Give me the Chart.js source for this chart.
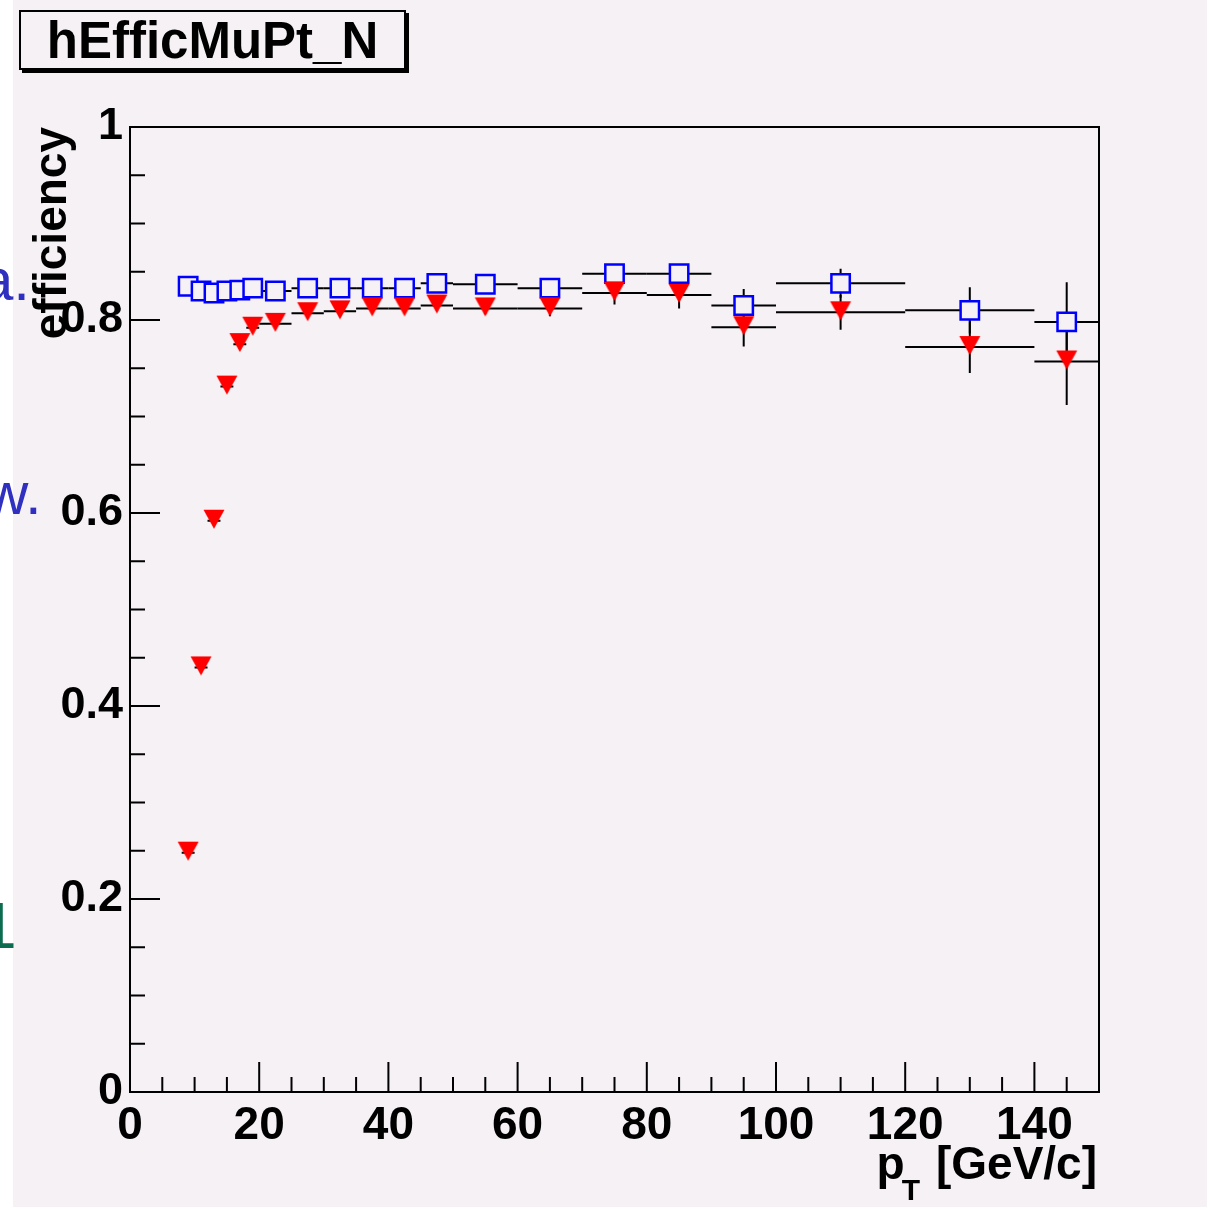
<!DOCTYPE html>
<html>
<head>
<meta charset="utf-8">
<title>hEfficMuPt_N</title>
<script src="https://cdn.jsdelivr.net/npm/chart.js@4.4.0/dist/chart.umd.min.js"></script>
<style>
  html, body { margin: 0; padding: 0; background: #ffffff; }
  #pad { position: absolute; left: 13px; top: 0; width: 1194px; height: 1207px; background: #f5f1f5; }
  #wrap { position: absolute; left: 0; top: 0; width: 1219px; height: 1207px; }
</style>
</head>
<body>
<div id="pad"></div>
<div id="wrap"><canvas id="effChart"></canvas></div>
<script>
// pT bins: centres and half widths [GeV/c]
const ptCentres    = [9, 11, 13, 15, 17, 19, 22.5, 27.5, 32.5, 37.5, 42.5, 47.5, 55, 65, 75, 85, 95, 110, 130, 145];
const ptHalfWidths = [1, 1, 1, 1, 1, 1, 2.5, 2.5, 2.5, 2.5, 2.5, 2.5, 5, 5, 5, 5, 5, 10, 10, 5];

// open blue squares
const effOpen    = [0.835, 0.830, 0.828, 0.830, 0.831, 0.833, 0.830, 0.833, 0.833, 0.833, 0.833, 0.838, 0.837, 0.833, 0.848, 0.848, 0.815, 0.838, 0.810, 0.798];
const effOpenErr = [0.004, 0.004, 0.004, 0.004, 0.004, 0.004, 0.004, 0.004, 0.004, 0.004, 0.005, 0.005, 0.006, 0.007, 0.009, 0.010, 0.017, 0.015, 0.024, 0.041];

// filled red triangles
const effFilled    = [0.248, 0.440, 0.592, 0.731, 0.775, 0.792, 0.796, 0.807, 0.809, 0.812, 0.812, 0.815, 0.812, 0.812, 0.828, 0.826, 0.7925, 0.808, 0.772, 0.757];
const effFilledErr = [0.003, 0.003, 0.003, 0.003, 0.003, 0.003, 0.003, 0.003, 0.003, 0.004, 0.004, 0.004, 0.006, 0.008, 0.012, 0.014, 0.020, 0.018, 0.027, 0.045];

const xTickValues = [0, 20, 40, 60, 80, 100, 120, 140];
const yTickValues = [0, 0.2, 0.4, 0.6, 0.8, 1];

const padColor = "#f5f1f5";
const fontFamily = '"Liberation Sans", Arial, Helvetica, sans-serif';

Chart.defaults.font.family = fontFamily;

// ROOT style down triangle, data point a bit below the middle of the marker
function makeTriangle() {
  const c = document.createElement("canvas");
  c.width = 24;
  c.height = 24;
  const g = c.getContext("2d");
  g.fillStyle = "#ff0000";
  g.beginPath();
  g.moveTo(1.5, 1);
  g.lineTo(22.5, 1);
  g.lineTo(12, 20);
  g.closePath();
  g.fill();
  return c;
}

function toPoints(ys, errs) {
  return ptCentres.map((x, i) => ({ x: x, y: ys[i], ex: ptHalfWidths[i], ey: errs[i] }));
}

// error bars drawn under the markers
const errorBars = {
  id: "errorBars",
  beforeDatasetsDraw(chart) {
    const ctx = chart.ctx;
    const xs = chart.scales.x;
    const ys = chart.scales.y;
    ctx.save();
    ctx.strokeStyle = "#000000";
    ctx.lineWidth = 2;
    chart.data.datasets.forEach((ds) => {
      ds.data.forEach((p) => {
        const px = xs.getPixelForValue(p.x);
        const py = ys.getPixelForValue(p.y);
        ctx.beginPath();
        ctx.moveTo(xs.getPixelForValue(p.x - p.ex), py);
        ctx.lineTo(xs.getPixelForValue(p.x + p.ex), py);
        ctx.moveTo(px, ys.getPixelForValue(p.y - p.ey));
        ctx.lineTo(px, ys.getPixelForValue(p.y + p.ey));
        ctx.stroke();
      });
    });
    ctx.restore();
  },
};

// frame, inward ticks, axis titles, title box and the bits of slide text at the left
const rootDecor = {
  id: "rootDecor",
  afterDraw(chart) {
    const ctx = chart.ctx;
    const xs = chart.scales.x;
    const ys = chart.scales.y;
    const area = chart.chartArea;
    ctx.save();

    // frame
    ctx.strokeStyle = "#000000";
    ctx.lineWidth = 2;
    ctx.strokeRect(area.left, area.top, area.right - area.left, area.bottom - area.top);

    // x ticks (major every 20, minor every 5)
    ctx.beginPath();
    for (let v = 0; v <= 150; v += 5) {
      const len = xTickValues.includes(v) ? 30 : 15;
      const px = xs.getPixelForValue(v);
      ctx.moveTo(px, area.bottom);
      ctx.lineTo(px, area.bottom - len);
    }
    // y ticks (major every 0.2, minor every 0.05)
    for (let k = 0; k <= 20; k++) {
      const v = k * 0.05;
      const len = k % 4 === 0 ? 30 : 15;
      const py = ys.getPixelForValue(v);
      ctx.moveTo(area.left, py);
      ctx.lineTo(area.left + len, py);
    }
    ctx.stroke();

    // y title
    ctx.fillStyle = "#000000";
    ctx.save();
    ctx.translate(66, area.top);
    ctx.rotate(-Math.PI / 2);
    ctx.font = "bold 46px " + fontFamily;
    ctx.textAlign = "right";
    ctx.textBaseline = "alphabetic";
    ctx.fillText("efficiency", 0, 0);
    ctx.restore();

    // x title: p_T [GeV/c]
    ctx.textBaseline = "alphabetic";
    ctx.font = "bold 46px " + fontFamily;
    ctx.textAlign = "right";
    const rightEdge = area.right - 2;
    ctx.fillText("[GeV/c]", rightEdge, 1179);
    const wUnit = ctx.measureText("[GeV/c]").width;
    let x0 = rightEdge - wUnit - 16;
    ctx.font = "bold 30px " + fontFamily;
    ctx.fillText("T", x0, 1200);
    x0 -= ctx.measureText("T").width;
    ctx.font = "bold 46px " + fontFamily;
    ctx.fillText("p", x0 + 3, 1179);

    // title box
    ctx.fillStyle = "#000000";
    ctx.fillRect(22, 13, 387, 60);
    ctx.fillStyle = padColor;
    ctx.fillRect(19, 10, 387, 60);
    ctx.strokeRect(20, 11, 385, 58);
    ctx.fillStyle = "#000000";
    ctx.font = "bold 51px " + fontFamily;
    ctx.textAlign = "center";
    ctx.fillText("hEfficMuPt_N", 212.5, 58);

    // slide text cut by the left edge
    ctx.textAlign = "left";
    ctx.font = "60px " + fontFamily;
    ctx.fillStyle = "#3030c0";
    ctx.fillText("a.", -20, 300);
    ctx.fillText("w.", -15, 514);
    ctx.font = "64px " + fontFamily;
    ctx.fillStyle = "#0b6c50";
    ctx.fillText("1", -19, 948);

    ctx.restore();
  },
};

const ctx = document.getElementById("effChart").getContext("2d");

new Chart(ctx, {
  type: "scatter",
  data: {
    datasets: [
      {
        label: "filled",
        data: toPoints(effFilled, effFilledErr),
        pointStyle: makeTriangle(),
        pointRadius: 12,
      },
      {
        label: "open",
        data: toPoints(effOpen, effOpenErr),
        pointStyle: "rect",
        pointRadius: 13,
        borderColor: "#0000ff",
        backgroundColor: padColor,
        borderWidth: 2.5,
      },
    ],
  },
  options: {
    responsive: true,
    maintainAspectRatio: false,
    animation: false,
    events: [],
    layout: {
      padding: { left: 14, top: 127, right: 120, bottom: 55 },
    },
    plugins: {
      legend: { display: false },
      tooltip: { enabled: false },
    },
    scales: {
      x: {
        type: "linear",
        min: 0,
        max: 150,
        grid: { display: false, drawTicks: false },
        border: { display: false },
        afterBuildTicks: (scale) => {
          scale.ticks = xTickValues.map((v) => ({ value: v }));
        },
        afterFit: (scale) => {
          scale.height = 60;
        },
        ticks: {
          color: "#000000",
          font: { size: 46, weight: "bold" },
          padding: 7,
          maxRotation: 0,
          autoSkip: false,
        },
      },
      y: {
        type: "linear",
        min: 0,
        max: 1,
        grid: { display: false, drawTicks: false },
        border: { display: false },
        afterBuildTicks: (scale) => {
          scale.ticks = yTickValues.map((v) => ({ value: v }));
        },
        afterFit: (scale) => {
          scale.width = 116;
        },
        ticks: {
          color: "#000000",
          font: { size: 45, weight: "bold" },
          padding: 7,
          autoSkip: false,
          callback: (v) => String(v),
        },
      },
    },
  },
  plugins: [errorBars, rootDecor],
});
</script>
</body>
</html>
